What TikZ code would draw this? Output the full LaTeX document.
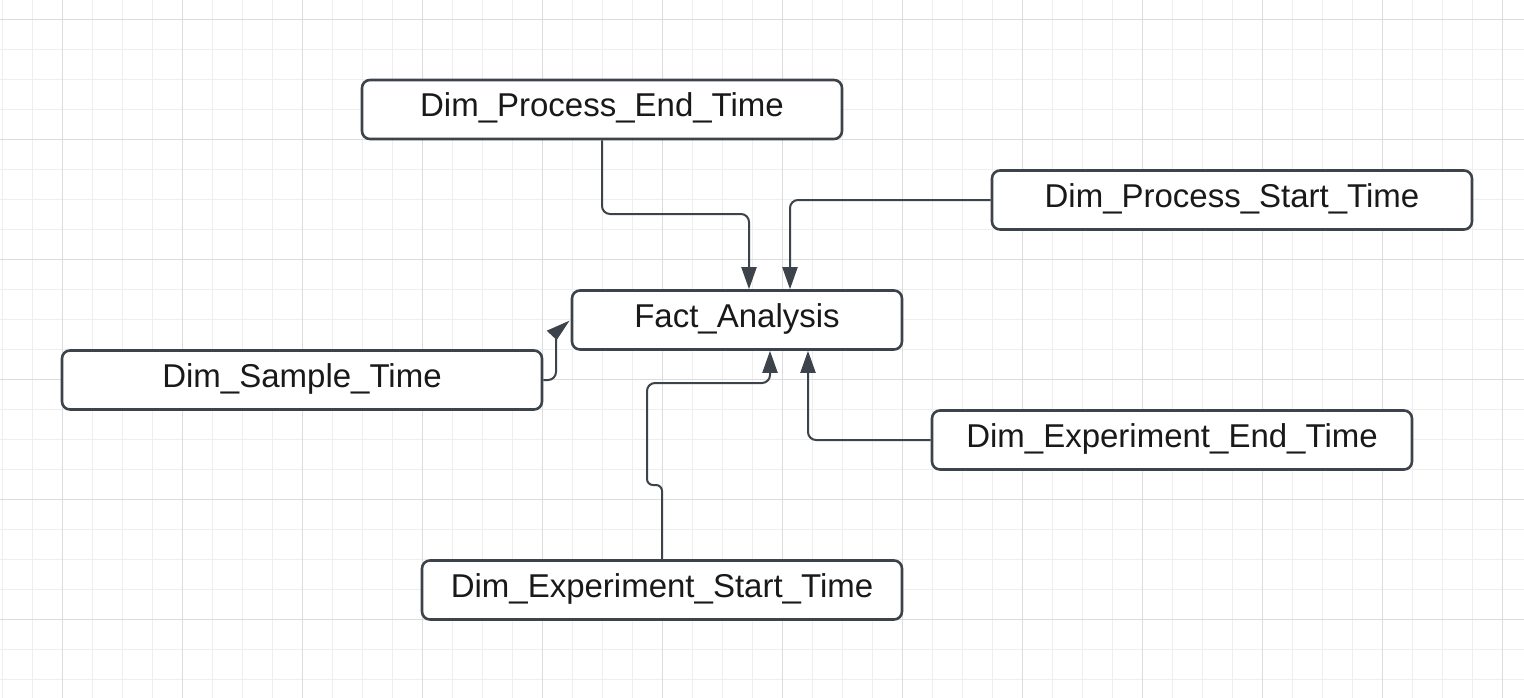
\documentclass[tikz,border=0pt]{standalone}
\usepackage{fontspec}
\setmainfont{Liberation Sans}
\usetikzlibrary{arrows.meta}
\definecolor{edge}{HTML}{3D434B}
\definecolor{minorgrid}{HTML}{EEEEEE}
\definecolor{majorgrid}{HTML}{DCDCDC}
\tikzset{
  entity/.style={draw=edge, line width=2.6pt, rounded corners=8pt, fill=white,
    minimum width=480pt, minimum height=59pt, inner sep=0pt,
    text height=24pt, text depth=9pt,
    font=\fontsize{33}{36}\selectfont, text=black!90},
  wire/.style={draw=edge, line width=2pt, rounded corners=8pt},
  link/.style={wire, -{Triangle[length=22pt,width=15pt]}},
}
\begin{document}
\begin{tikzpicture}[x=1pt,y=-1pt]
\fill[white] (0,0) rectangle (1524,698);
\useasboundingbox (0,0) rectangle (1524,698);
% grid
\foreach \k in {0,...,50} {
  \draw[minorgrid, line width=1pt] ({2.3+30*\k},0) -- ({2.3+30*\k},698);
}
\foreach \k in {0,...,23} {
  \draw[minorgrid, line width=1pt] (0,{19.5+30*\k}) -- (1524,{19.5+30*\k});
}
\foreach \k in {0,...,12} {
  \draw[majorgrid, line width=1pt] ({62.3+120*\k},0) -- ({62.3+120*\k},698);
}
\foreach \k in {0,...,5} {
  \draw[majorgrid, line width=1pt] (0,{19.5+120*\k}) -- (1524,{19.5+120*\k});
}
% nodes
\node[entity] (pend) at (602,109.5) {Dim\_Process\_End\_Time};
\node[entity] (pstart) at (1232,200) {Dim\_Process\_Start\_Time};
\node[entity, minimum width=330pt] (fact) at (737,320) {Fact\_Analysis};
\node[entity] (sample) at (302,380) {Dim\_Sample\_Time};
\node[entity] (eend) at (1172,440) {Dim\_Experiment\_End\_Time};
\node[entity] (estart) at (662,590) {Dim\_Experiment\_Start\_Time};
% connectors
\coordinate (x1) at (749,0);
\coordinate (x2) at (790,0);
\coordinate (x3) at (770,0);
\coordinate (x4) at (808,0);
\coordinate (f1) at (fact.north -| x1);
\coordinate (f2) at (fact.north -| x2);
\coordinate (f3) at (fact.south -| x3);
\coordinate (f4) at (fact.south -| x4);
\coordinate (f5) at (569.5,320.7);
\draw[link] (pend.south) -- (602,214) -- (749,214) -- (f1);
\draw[link] (pstart.west) -- (790,200) -- (f2);
\draw[wire] (sample.east) -- (556,380) -- (556,337);
\fill[edge] (f5) -- (546.7,330.7) -- (556.7,340) -- cycle;
\draw[link, rounded corners=6pt] (estart.north) -- (662,485) -- (647,485) [rounded corners=8pt] -- (647,383) -- (770,383) -- (f3);
\draw[link] (eend.west) -- (808,440) -- (f4);
\end{tikzpicture}
\end{document}
